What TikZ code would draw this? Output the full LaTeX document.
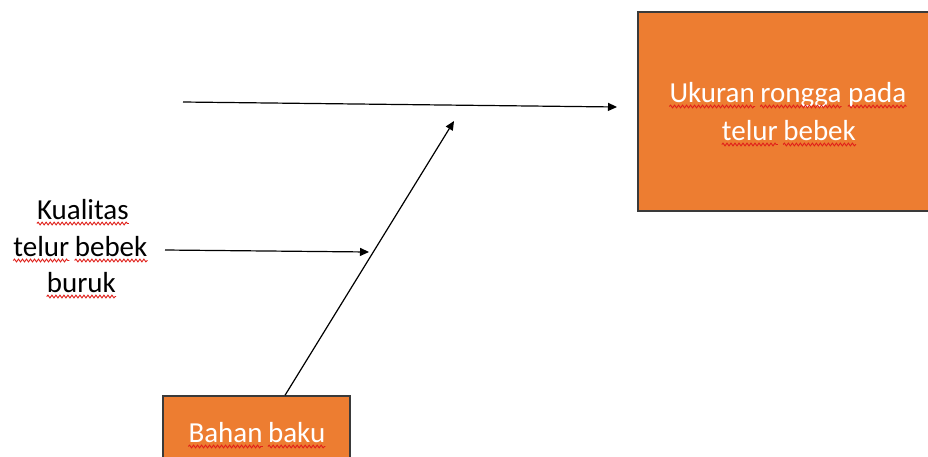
\documentclass[tikz,border=0pt]{standalone}
\usepackage{fontspec}
\setmainfont{Carlito}
\usetikzlibrary{arrows.meta,decorations.pathmorphing}
\definecolor{boxorange}{HTML}{ED7D31}
\definecolor{boxedge}{HTML}{3A3A3A}
\definecolor{spellred}{HTML}{E0201A}
% one word of a centred text line, with a red wavy underline:
% #1 word node name, #2 line node, #3 text before the word, #4 the word
\newcommand\lineword[4]{%
  \node[measure] (#1pre) at (#2.base west) {\phantom{#3}};
  \node[measure] (#1) at (#1pre.base east) {#4};
  \draw[wave] ([yshift=-4.5pt]#1.base west) -- ([yshift=-4.5pt]#1.base east);}
\begin{document}
\begin{tikzpicture}[x=1pt,y=-1pt,
  labelfont/.style={font=\fontsize{29}{36}\selectfont},
  orangebox/.style={draw=boxedge,line width=1.4pt,fill=boxorange,inner sep=0pt},
  line/.style={labelfont,inner sep=0pt,anchor=base},
  measure/.style={labelfont,inner sep=0pt,anchor=base west},
  wave/.style={spellred,line width=0.9pt,decorate,
    decoration={snake,amplitude=1.4pt,segment length=4pt}},
  link/.style={line width=1.2pt,-{Triangle[length=9pt,width=8pt]}}]
\clip (0,0) rectangle (928,456);
\fill[white] (0,0) rectangle (928,456);

% effect box (runs past the right edge)
\node[orangebox,minimum width=298pt,minimum height=199pt] (effect) at (787,111.5) {};
\node[line] (e1) at (787,102) {\phantom{Ukuran rongga pada}};
\node[line] (e2) at (788,140) {\phantom{telur bebek}};

% raw-material box at the bottom
\node[orangebox,minimum width=187pt,minimum height=72pt] (material) at (256.5,432) {};
\node[line] (m1) at (256,442) {\phantom{Bahan baku}};

% cause label on the left
\node[line] (q1) at (81.5,219) {\phantom{Kualitas}};
\node[line] (q2) at (79.5,256) {\phantom{telur bebek}};
\node[line] (q3) at (80,292) {\phantom{buruk}};

% words of each line
\begin{scope}[every node/.append style={text=white}]
  \lineword{e1a}{e1}{}{Ukuran}
  \lineword{e1b}{e1}{Ukuran }{rongga}
  \lineword{e1c}{e1}{Ukuran rongga }{pada}
  \lineword{e2a}{e2}{}{telur}
  \lineword{e2b}{e2}{telur }{bebek}
  \lineword{m1a}{m1}{}{Bahan}
  \lineword{m1b}{m1}{Bahan }{baku}
\end{scope}
\lineword{q1a}{q1}{}{Kualitas}
\lineword{q2a}{q2}{}{telur}
\lineword{q2b}{q2}{telur }{bebek}
\lineword{q3a}{q3}{}{buruk}

% connector end points
\coordinate (spineS) at (183,102);
\coordinate (spineE) at (617,107);
\coordinate (boneS) at ([xshift=28.5pt]material.north);
\coordinate (boneE) at (454,121);
\coordinate (qualityS) at (165,250);
\coordinate (qualityE) at (369,252);

\draw[link] (spineS) -- (spineE);
\draw[link] (boneS) -- (boneE);
\draw[link] (qualityS) -- (qualityE);
\end{tikzpicture}
\end{document}
